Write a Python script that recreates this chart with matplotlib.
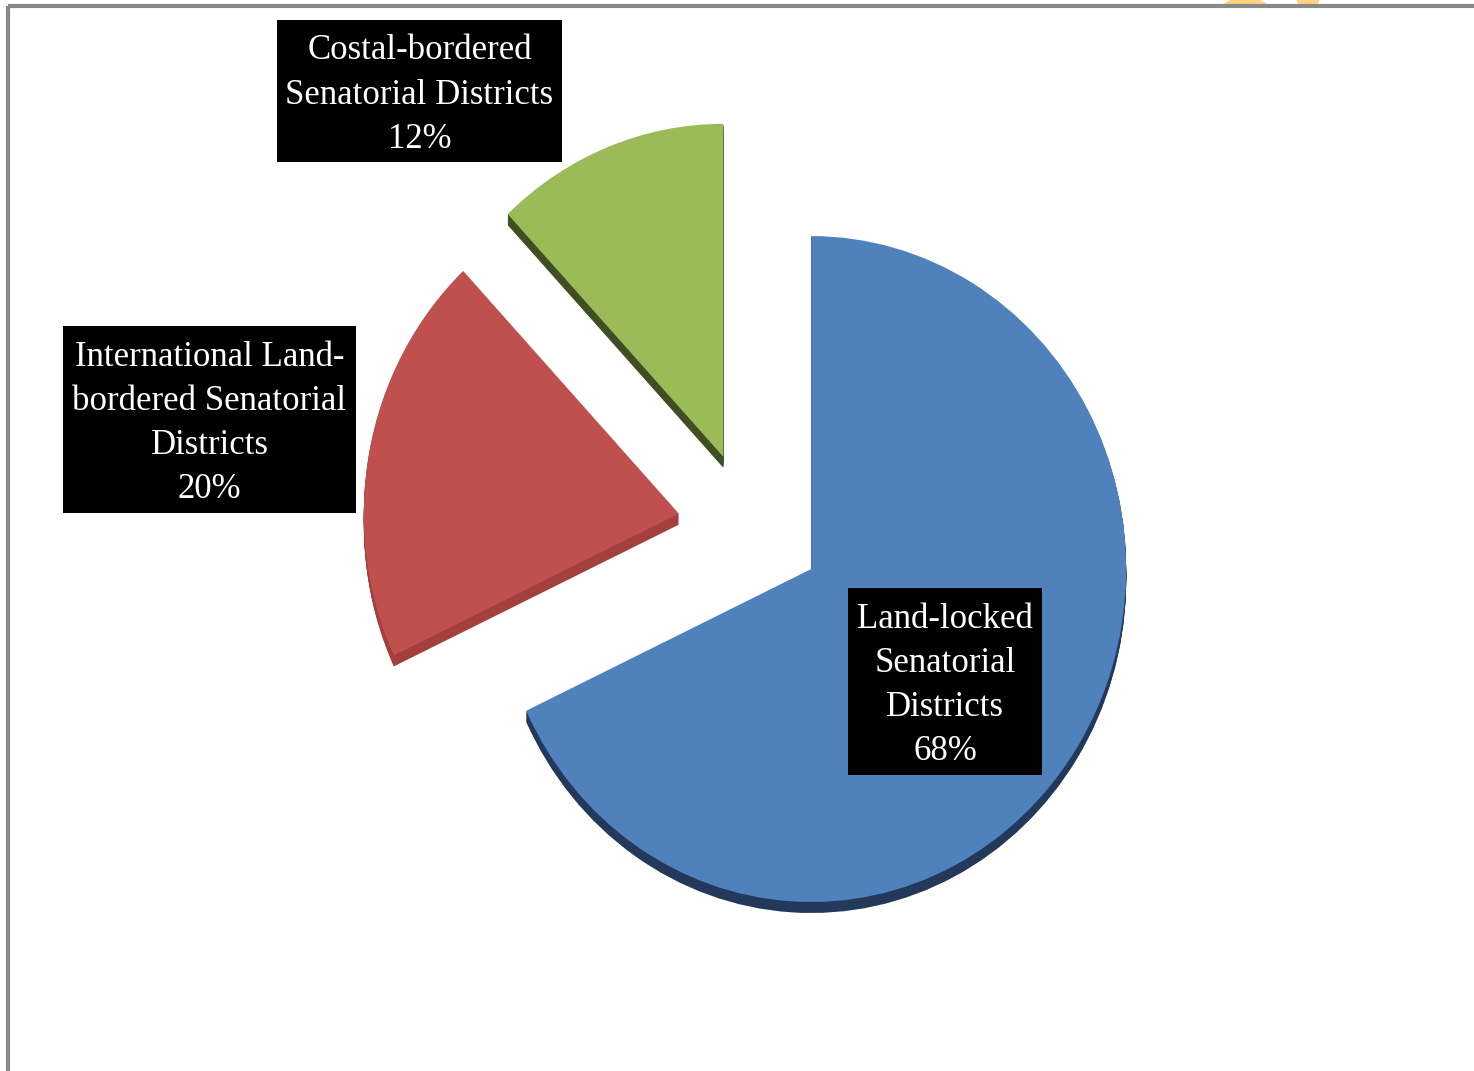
import matplotlib
matplotlib.use("Agg")
import matplotlib.pyplot as plt
from matplotlib.patches import Rectangle, Ellipse
from matplotlib.lines import Line2D

# Share of senatorial districts by border type
categories = ["Land-locked\nSenatorial\nDistricts",
              "International Land-\nbordered Senatorial\nDistricts",
              "Costal-bordered\nSenatorial Districts"]
values = [68, 20, 12]
top_colors = ["#4F81BD", "#C0504D", "#9BBB59"]
side_colors = ["#23385A", "#A33F3E", "#3F4E23"]

W, H = 1474, 1071
SY = 1.057          # vertical stretch of the tilted pie (pixels per y unit)


def yd(py):
    """Pixel row (from top) to data y."""
    return (H - py) / SY


fig = plt.figure(figsize=(W / 100, H / 100), dpi=100)
ax = fig.add_axes([0, 0, 1, 1])

cx, cy = 750, yd(528)
radius = 315
explode = [0.23 * radius] * 3   # pie offsets wedges in data units
depth = 11

# extruded side of the 3-D pie
for k in range(depth, 0, -1):
    ax.pie(values, colors=side_colors, startangle=90, counterclock=False,
           explode=explode, radius=radius, center=(cx, cy - k / SY),
           frame=True, wedgeprops=dict(linewidth=0))

# top face
ax.pie(values, colors=top_colors, startangle=90, counterclock=False,
       explode=explode, radius=radius, center=(cx, cy),
       frame=True, wedgeprops=dict(linewidth=0))

ax.set_aspect("auto")
ax.set_xlim(0, W)
ax.set_ylim(0, H / SY)
ax.axis("off")

# data labels in black boxes
boxes = [(848, 588, 1042, 775), (63, 326, 356, 513), (277, 20, 562, 162)]
for name, v, (x0, y0, x1, y1) in zip(categories, values, boxes):
    ax.add_patch(Rectangle((x0, yd(y1)), x1 - x0, yd(y0) - yd(y1),
                           facecolor="black", edgecolor="none", zorder=5))
    ax.text((x0 + x1) / 2, yd((y0 + y1) / 2 + 4), f"{name}\n{v}%",
            ha="center", va="center", color="white", fontsize=25,
            family="Liberation Serif", linespacing=1.45, zorder=6)

# partial logo peeking above the frame
ax.add_patch(Ellipse((1245, yd(22)), 62, 50 / SY, facecolor="#FFD27F",
                     edgecolor="none", zorder=0))
ax.add_patch(Ellipse((1308, yd(0)), 22, 18 / SY, facecolor="#FFD27F",
                     edgecolor="none", zorder=0))
ax.add_patch(Rectangle((0, yd(H)), W, yd(7) - yd(H), facecolor="white",
                       edgecolor="none", zorder=0.5))

# outer frame
ax.add_line(Line2D([8, W], [yd(6), yd(6)], color="#888888", lw=3,
                   solid_capstyle="butt", zorder=7))
ax.add_line(Line2D([8, 8], [yd(6), yd(H)], color="#888888", lw=3,
                   solid_capstyle="butt", zorder=7))

fig.savefig("out.png", dpi=100, facecolor="white")
